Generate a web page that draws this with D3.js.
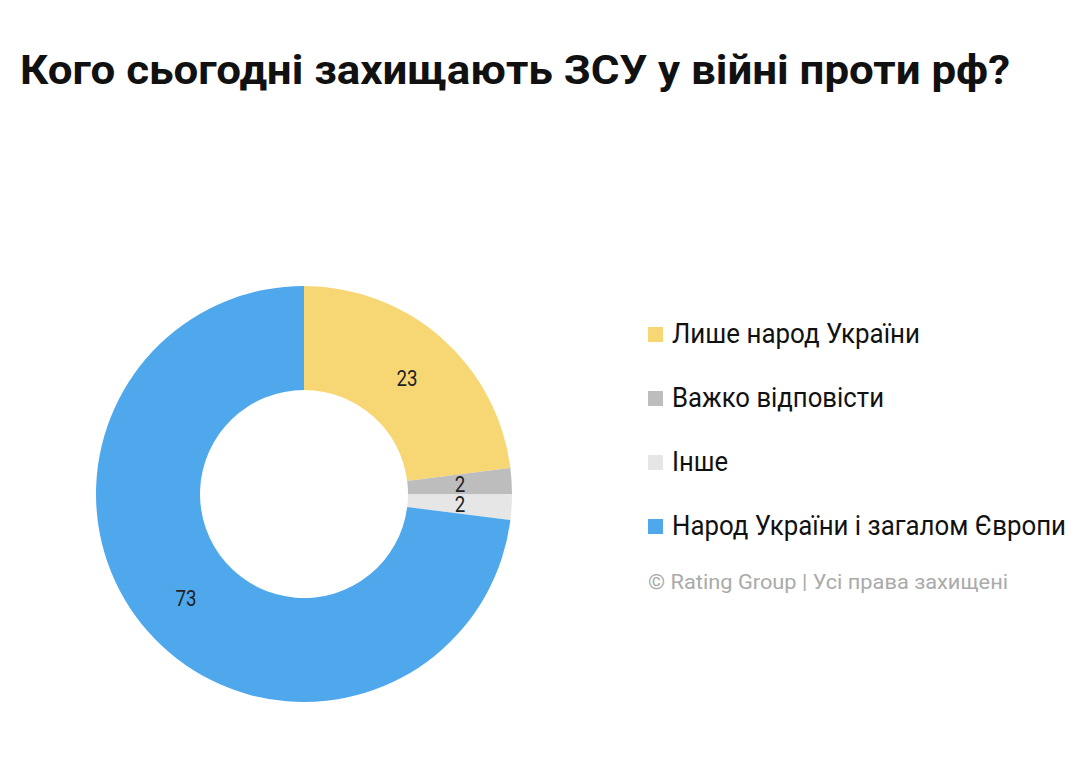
<!DOCTYPE html>
<html><head><meta charset="utf-8">
<script src="https://cdn.jsdelivr.net/npm/d3@7"></script>
<style>body{margin:0;background:#fff}</style></head>
<body><svg id="c" width="1080" height="774"></svg>
<script>
const categories = ["Лише народ України","Важко відповісти","Інше","Народ України і загалом Європи"];
const values = [23, 2, 2, 73];
const colors = ["#f7d774","#bdbdbd","#e6e6e6","#4fa8ec"];
const legendWidths = [248, 212, 56, 394];
const labelPos = [[407,378],[460,484],[460,504],[186,598]];

const svg = d3.select("#c");
svg.append("rect").attr("width",1080).attr("height",774).attr("fill","#fff");
svg.append("text").attr("x",20).attr("y",84).attr("font-family","Roboto").attr("font-weight","bold")
  .attr("font-size",40).attr("textLength",990).attr("lengthAdjust","spacingAndGlyphs").attr("fill","#111")
  .text("Кого сьогодні захищають ЗСУ у війні проти рф?");

const cx=304, cy=494;
const pie = d3.pie().sort(null).value(d=>d);
const arc = d3.arc().innerRadius(104).outerRadius(208);
const g = svg.append("g").attr("transform",`translate(${cx},${cy})`);
const arcs = pie(values);
g.selectAll("path").data(arcs).join("path").attr("d",arc).attr("fill",(d,i)=>colors[i]);

svg.selectAll("text.lbl").data(arcs).join("text").attr("class","lbl")
  .attr("x",(d,i)=>labelPos[i][0]).attr("y",(d,i)=>labelPos[i][1])
  .attr("text-anchor","middle").attr("dominant-baseline","central")
  .attr("font-family","Roboto").attr("font-size",22).attr("fill","#222")
  .attr("transform",(d,i)=>`translate(${labelPos[i][0]*0.15},0) scale(0.85,1)`)
  .text(d=>d.data);

const lg = svg.append("g");
const y = d3.scalePoint().domain(categories).range([334,526]);
categories.forEach((c,i)=>{
  lg.append("rect").attr("x",648).attr("y",y(c)-7).attr("width",15).attr("height",15).attr("fill",colors[i]);
  lg.append("text").attr("x",672).attr("y",y(c)).attr("dominant-baseline","central")
    .attr("font-family","Roboto").attr("font-size",27).attr("fill","#111")
    .attr("textLength",legendWidths[i]).attr("lengthAdjust","spacingAndGlyphs").text(c);
});
svg.append("text").attr("x",648).attr("y",582).attr("dominant-baseline","central")
  .attr("font-family","Roboto").attr("font-size",20).attr("fill","#aaa")
  .attr("textLength",360).attr("lengthAdjust","spacingAndGlyphs")
  .text("© Rating Group | Усі права захищені");
</script></body></html>
